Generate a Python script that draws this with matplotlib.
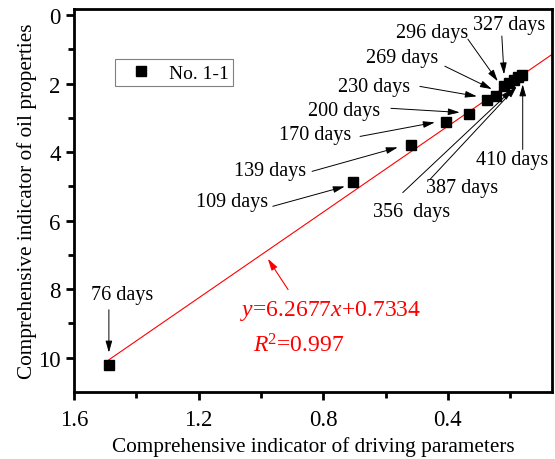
import matplotlib
matplotlib.use("Agg")
import matplotlib.pyplot as plt
import numpy as np

plt.rcParams['font.family'] = ['Liberation Serif', 'DejaVu Serif']
plt.rcParams['mathtext.fontset'] = 'custom'
plt.rcParams['mathtext.rm'] = 'Liberation Serif'
plt.rcParams['mathtext.it'] = 'Liberation Serif:italic'

# data
days = [76, 109, 139, 170, 200, 230, 269, 296, 327, 356, 387, 410]
driving = [1.488, 0.705, 0.519, 0.407, 0.333, 0.275, 0.246, 0.220, 0.204, 0.188, 0.176, 0.162]
oil = [10.20, 4.88, 3.80, 3.13, 2.89, 2.49, 2.37, 2.08, 1.99, 1.90, 1.81, 1.75]
slope, intercept = 6.2677, 0.7334
x_ticks = [1.6, 1.2, 0.8, 0.4]
y_ticks = [0, 2, 4, 6, 8, 10]

# annotation layout: label text, text center, arrow tail, arrow head
labels = ["76 days", "109 days", "139 days", "170 days", "200 days", "230 days",
          "269 days", "296 days", "327 days", "356  days", "387 days", "410 days"]
text_pos = [(1.446, 8.16), (1.093, 5.44), (0.971, 4.53), (0.827, 3.48), (0.734, 2.78),
            (0.638, 2.08), (0.548, 1.23), (0.451, 0.50), (0.204, 0.26), (0.516, 5.73),
            (0.355, 5.03), (0.195, 4.21)]
tails = [(1.488, 8.60), (0.962, 5.58), (0.836, 4.56), (0.682, 3.54), (0.583, 2.72),
         (0.490, 2.08), (0.410, 1.49), (0.336, 0.70), (0.227, 0.61), (0.545, 5.18),
         (0.458, 4.80), (0.160, 3.92)]
heads = [(1.488, 9.85), (0.731, 5.00), (0.561, 3.86), (0.442, 3.13), (0.362, 2.84),
         (0.307, 2.37), (0.259, 2.16), (0.240, 1.93), (0.220, 1.73), (0.192, 2.16),
         (0.179, 2.08), (0.160, 2.02)]

fig = plt.figure(figsize=(5.55, 4.60), dpi=100)
ax = fig.add_axes([0.1333, 0.1457, 0.8613, 0.8326])

xlim = (1.6, 0.066)
ax.set_xlim(*xlim)
ax.set_ylim(11.0, -0.18)

xs = np.array([driving[0], xlim[1]])
ax.plot(xs, slope * xs + intercept, color='red', lw=0.8, zorder=2)
ax.plot(driving, oil, 's', color='black', ms=6.5, label='No. 1-1', zorder=3)

for lab, tp, t, h in zip(labels, text_pos, tails, heads):
    ax.text(tp[0], tp[1], lab, ha='center', va='center', fontsize=14.5)
    ax.annotate('', xy=h, xytext=t,
                arrowprops=dict(arrowstyle='-|>,head_length=0.7,head_width=0.2',
                                color='black', lw=0.7, shrinkA=0, shrinkB=0))

ax.annotate('', xy=(0.978, 7.11), xytext=(0.913, 8.01),
            arrowprops=dict(arrowstyle='-|>,head_length=0.7,head_width=0.2',
                            color='red', lw=0.8, shrinkA=0, shrinkB=0))
ax.text(1.067, 8.60, r'$y$=6.2677$x$+0.7334', color='red', fontsize=17,
        ha='left', va='center')
ax.text(1.026, 9.62, r'$R$$^2$=0.997', color='red', fontsize=17,
        ha='left', va='center')

ax.set_xticks(x_ticks)
ax.set_xticklabels([f"{v:.1f}" for v in x_ticks])
ax.set_xticks([1.4, 1.0, 0.6, 0.2], minor=True)
ax.set_yticks(y_ticks)
ax.set_yticks([1, 3, 5, 7, 9], minor=True)
ax.tick_params(which='major', direction='out', length=6, width=2, labelsize=16.5)
ax.tick_params(axis='x', which='major', pad=6)
ax.tick_params(which='minor', direction='out', length=4, width=2)
for s in ax.spines.values():
    s.set_linewidth(2)

ax.set_xlabel('Comprehensive indicator of driving parameters', fontsize=15.3, labelpad=5)
ax.set_ylabel('Comprehensive indicator of oil properties', fontsize=15.3, labelpad=1)

leg = ax.legend(loc='upper left', bbox_to_anchor=(0.086, 0.869), fancybox=False,
                edgecolor='0.5', framealpha=1, fontsize=14, handlelength=2.2,
                borderpad=0.25, handletextpad=0.3, borderaxespad=0)
leg.get_frame().set_linewidth(0.8)

fig.savefig('out.png', dpi=100)
